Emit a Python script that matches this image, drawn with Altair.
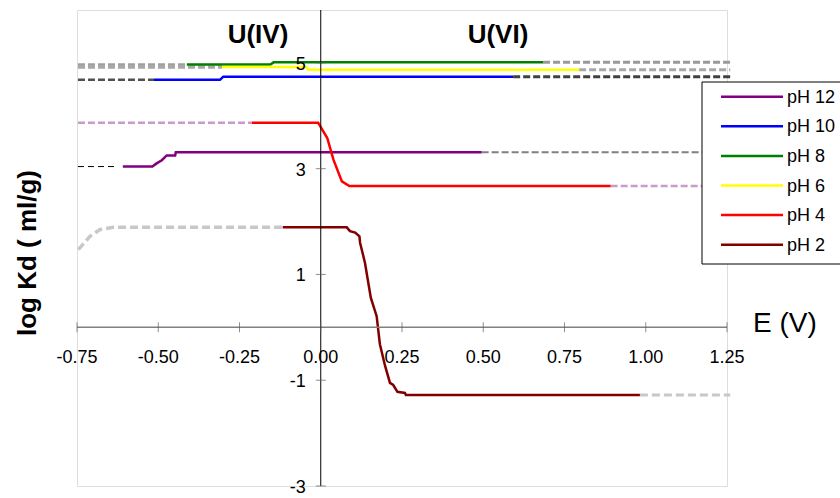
import altair as alt
import pandas as pd

FONT = "Liberation Sans"

# ---------------- data ----------------
ph_labels = ["pH 12", "pH 10", "pH 8", "pH 6", "pH 4", "pH 2"]
ph_colors = ["#800080", "#0000FF", "#008000", "#FFFF00", "#FF0000", "#800000"]

# measured (solid) curves
ph12_x = [-0.609, -0.518, -0.505, -0.489, -0.474, -0.448, -0.446, 0.495]
ph12_y = [3.04, 3.04, 3.10, 3.16, 3.25, 3.25, 3.31, 3.31]
ph10_x = [-0.513, -0.310, -0.300, 0.592]
ph10_y = [4.68, 4.68, 4.74, 4.74]
ph8_x = [-0.412, -0.155, -0.145, 0.684]
ph8_y = [4.97, 4.97, 5.01, 5.01]
ph6_x = [-0.304, -0.045, -0.038, 0.795]
ph6_y = [4.92, 4.92, 4.87, 4.87]
ph4_x = [-0.212, -0.008, 0.020, 0.039, 0.065, 0.088, 0.892]
ph4_y = [3.87, 3.87, 3.58, 3.17, 2.76, 2.67, 2.67]
ph2_x = [-0.117, 0.080, 0.090, 0.106, 0.119, 0.121, 0.136, 0.154, 0.172,
         0.182, 0.198, 0.213, 0.223, 0.236, 0.259, 0.262, 0.982]
ph2_y = [1.89, 1.89, 1.82, 1.79, 1.72, 1.60, 1.22, 0.56, 0.21,
         -0.32, -0.73, -1.05, -1.09, -1.22, -1.24, -1.28, -1.28]

solid_series = [
    ("pH 12", ph12_x, ph12_y),
    ("pH 10", ph10_x, ph10_y),
    ("pH 8", ph8_x, ph8_y),
    ("pH 6", ph6_x, ph6_y),
    ("pH 4", ph4_x, ph4_y),
    ("pH 2", ph2_x, ph2_y),
]

# extrapolated (dashed) parts
ext_names = ["pH 8 left", "pH 6 left", "pH 10 left", "pH 4 left", "pH 12 left", "pH 2 left",
             "pH 8 right", "pH 6 right", "pH 10 right", "pH 12 right", "pH 4 right", "pH 2 right"]
ext_x = [
    [-0.747, -0.412],
    [-0.747, -0.304],
    [-0.747, -0.513],
    [-0.747, -0.212],
    [-0.747, -0.628],
    [-0.746, -0.710, -0.679, -0.638, -0.117],
    [0.684, 1.26],
    [0.795, 1.26],
    [0.592, 1.26],
    [0.495, 1.26],
    [0.892, 1.26],
    [0.982, 1.26],
]
ext_y = [
    [4.96, 4.96],
    [4.92, 4.92],
    [4.68, 4.68],
    [3.87, 3.87],
    [3.04, 3.04],
    [1.47, 1.72, 1.85, 1.89, 1.89],
    [5.01, 5.01],
    [4.87, 4.87],
    [4.74, 4.74],
    [3.31, 3.31],
    [2.67, 2.67],
    [-1.28, -1.28],
]
# styles for the extrapolated parts
ext_colors = ["#A0A0A0", "#A8A8A8", "#505050", "#CC99CC", "#000000", "#C8C8C8",
              "#999999", "#A8A8A8", "#404040", "#808080", "#CC99CC", "#C8C8C8"]
ext_dashes = [[7, 3], [7, 3], [7, 3], [7, 3], [6, 4], [8, 4],
              [7, 3], [7, 3], [7, 3], [7, 3], [7, 3], [8, 4]]
ext_widths = [3.5, 3.5, 2.5, 2.5, 1.0, 3.5, 3, 3, 3, 2, 2.5, 3]

x_ticks = [-0.75, -0.5, -0.25, 0.0, 0.25, 0.5, 0.75, 1.0, 1.25]
x_tick_labels = ["-0.75", "-0.50", "-0.25", "0.00", "0.25", "0.50", "0.75", "1.00", "1.25"]
y_ticks = [-3, -1, 1, 3, 5]
y_tick_labels = ["-3", "-1", "1", "3", "5"]

# ---------------- tables ----------------
solid_rows = []
for name, xs_, ys_ in solid_series:
    for k, (a, b) in enumerate(zip(xs_, ys_)):
        solid_rows.append({"pH": name, "x": a, "y": b, "k": k})
solid_df = pd.DataFrame(solid_rows)

xtick_df = pd.DataFrame({"v": x_ticks, "lab": x_tick_labels, "zero": 0.0})
ytick_df = pd.DataFrame({"v": y_ticks, "lab": y_tick_labels, "zero": 0.0})
legend_df = pd.DataFrame({"pH": ph_labels, "i": list(range(len(ph_labels)))})
one = pd.DataFrame({"a": [0]})

xs = alt.Scale(domain=[-0.75, 1.25], nice=False, zero=False)
ys = alt.Scale(domain=[-3, 6], nice=False, zero=False)
cscale = alt.Scale(domain=ph_labels, range=ph_colors)

dashed_layers = []
for name, xs_, ys_, col, dash, wid in zip(ext_names, ext_x, ext_y, ext_colors, ext_dashes, ext_widths):
    seg_df = pd.DataFrame({"x": xs_, "y": ys_, "k": list(range(len(xs_)))})
    dashed_layers.append(
        alt.Chart(seg_df).mark_line(strokeCap="butt", color=col, strokeDash=dash, strokeWidth=wid).encode(
            x=alt.X("x:Q", scale=xs, axis=None),
            y=alt.Y("y:Q", scale=ys, axis=None),
            order="k:Q",
        )
    )

solid = alt.Chart(solid_df).mark_line(strokeWidth=2.5).encode(
    x=alt.X("x:Q", scale=xs, axis=None),
    y=alt.Y("y:Q", scale=ys, axis=None),
    detail="pH:N",
    order="k:Q",
    color=alt.Color("pH:N", scale=cscale, legend=None),
)

axis_df = pd.DataFrame({"x1": [-0.75], "x2": [1.25], "y1": [-3.0], "y2": [6.0], "z": [0.0]})
x_axis_line = alt.Chart(axis_df).mark_rule(color="#808080", strokeWidth=1.5).encode(
    x=alt.X("x1:Q", scale=xs, axis=None), x2="x2:Q",
    y=alt.Y("z:Q", scale=ys, axis=None),
)
y_axis_line = alt.Chart(axis_df).mark_rule(color="#000000", strokeWidth=1).encode(
    x=alt.X("z:Q", scale=xs, axis=None),
    y=alt.Y("y1:Q", scale=ys, axis=None), y2="y2:Q",
)
x_tick_marks = alt.Chart(xtick_df).mark_tick(orient="vertical", size=10, thickness=1, color="#606060").encode(
    x=alt.X("v:Q", scale=xs, axis=None),
    y=alt.Y("zero:Q", scale=ys, axis=None),
)
y_tick_marks = alt.Chart(ytick_df).mark_tick(orient="horizontal", size=10, thickness=1, color="#606060").encode(
    x=alt.X("zero:Q", scale=xs, axis=None),
    y=alt.Y("v:Q", scale=ys, axis=None),
)
x_tick_text = alt.Chart(xtick_df).mark_text(font=FONT, fontSize=18, align="center",
                                            baseline="alphabetic", dy=36, color="#000000").encode(
    x=alt.X("v:Q", scale=xs, axis=None),
    y=alt.Y("zero:Q", scale=ys, axis=None),
    text="lab:N",
)
y_tick_text = alt.Chart(ytick_df).mark_text(font=FONT, fontSize=18, align="right",
                                            baseline="middle", dx=-15, dy=2, color="#000000").encode(
    x=alt.X("zero:Q", scale=xs, axis=None),
    y=alt.Y("v:Q", scale=ys, axis=None),
    text="lab:N",
)

# legend (drawn manually)
leg_box = alt.Chart(one).mark_rect(fill="white", stroke="black", strokeWidth=1).encode(
    x=alt.value(625), x2=alt.value(790), y=alt.value(72), y2=alt.value(254),
)
leg_lines = alt.Chart(legend_df).transform_calculate(ly="86.7 + datum.i * 29.6").mark_rule(strokeWidth=2.5).encode(
    x=alt.value(644), x2=alt.value(706),
    y=alt.Y("ly:Q", scale=None),
    color=alt.Color("pH:N", scale=cscale, legend=None),
)
leg_text = alt.Chart(legend_df).transform_calculate(ly="86.7 + datum.i * 29.6").mark_text(
    font=FONT, fontSize=18, align="left", baseline="middle", dy=1, color="#000000").encode(
    x=alt.value(710),
    y=alt.Y("ly:Q", scale=None),
    text="pH:N",
)

# annotations
ann_iv = alt.Chart(one).mark_text(text="U(IV)", font=FONT, fontSize=26, fontWeight="bold",
                                  align="center", baseline="alphabetic").encode(
    x=alt.value(181), y=alt.value(33))
ann_vi = alt.Chart(one).mark_text(text="U(VI)", font=FONT, fontSize=26, fontWeight="bold",
                                  align="center", baseline="alphabetic").encode(
    x=alt.value(421), y=alt.value(33))
x_title = alt.Chart(one).mark_text(text="E (V)", font=FONT, fontSize=28,
                                   align="left", baseline="alphabetic").encode(
    x=alt.value(676), y=alt.value(322))
y_title = alt.Chart(one).mark_text(text="log Kd ( ml/g)", font=FONT, fontSize=26, fontWeight="bold",
                                   align="center", baseline="middle", angle=270).encode(
    x=alt.value(-49), y=alt.value(243))

chart = alt.layer(
    *dashed_layers, solid, x_axis_line, y_axis_line, x_tick_marks, y_tick_marks,
    x_tick_text, y_tick_text, leg_box, leg_lines, leg_text,
    ann_iv, ann_vi, x_title, y_title,
).properties(
    width=650, height=476,
    autosize=alt.AutoSizeParams(type="none"),
    padding={"left": 77, "top": 10, "right": 113, "bottom": 12},
).configure_view(stroke=None).configure(background="white")

chart.save("out.html", embed_options={"renderer": "svg", "actions": False})
